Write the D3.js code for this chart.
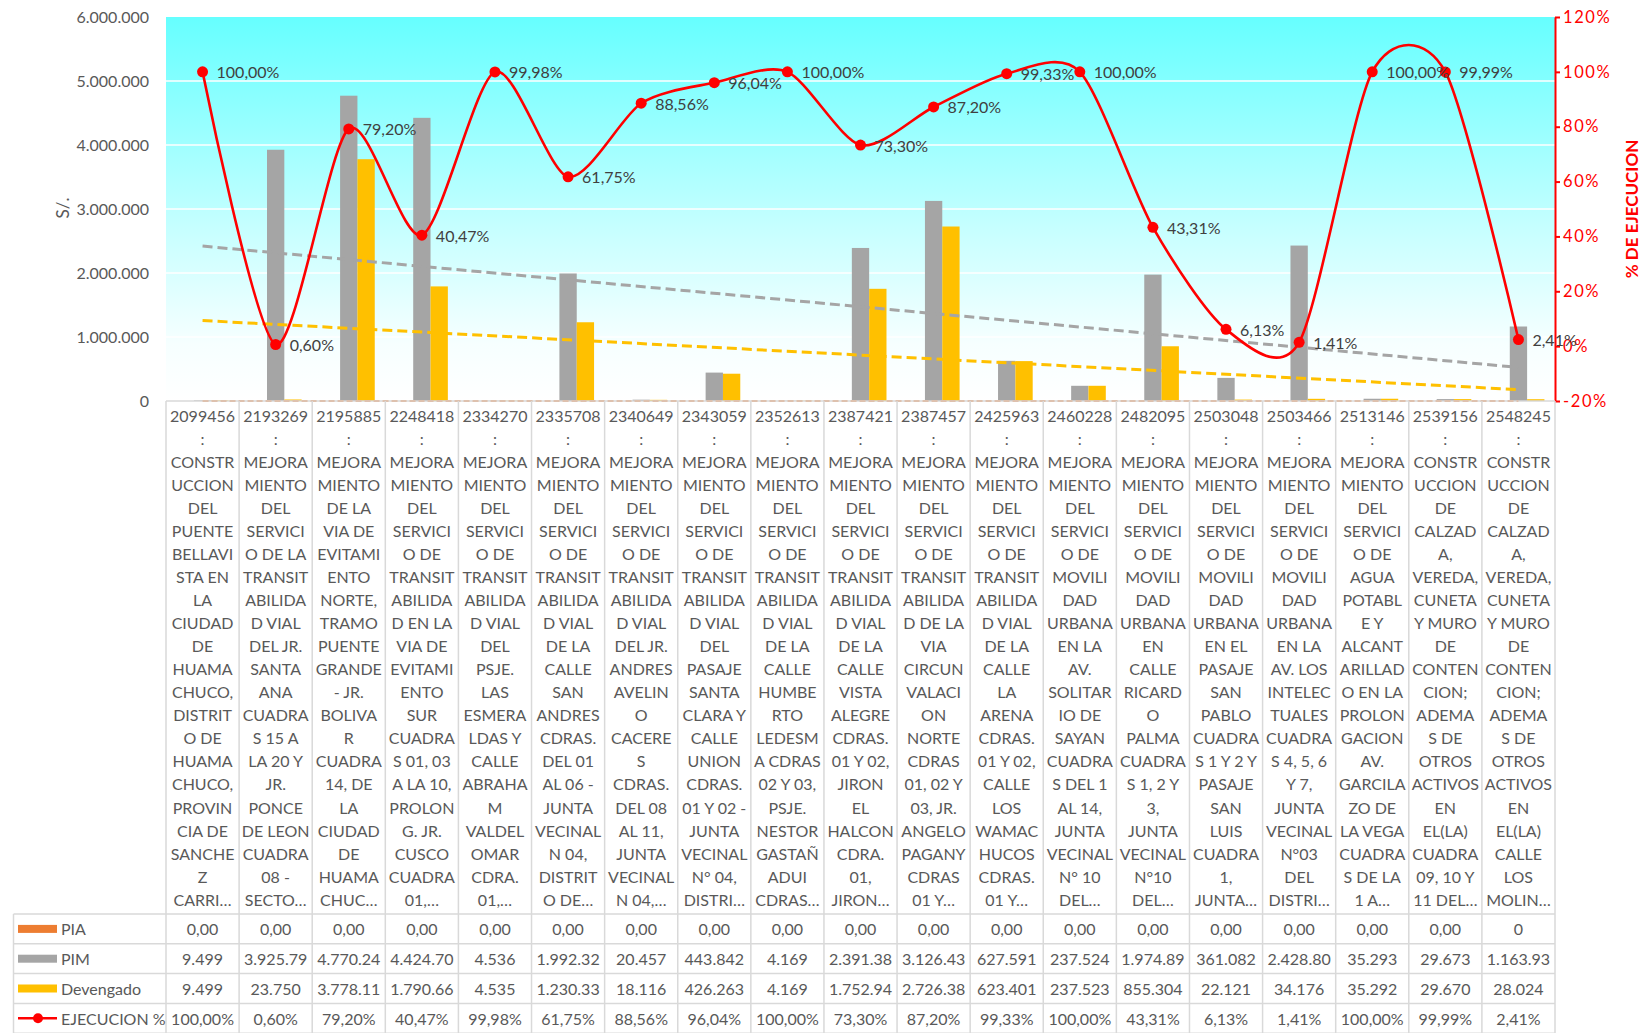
<!DOCTYPE html>
<html><head><meta charset="utf-8">
<script src="https://cdn.jsdelivr.net/npm/d3@7"></script>
<style>
body{margin:0;background:#fff;}
svg{display:block;font-family:Lato, "Open Sans", sans-serif;}
</style>
</head><body>
<svg id="chart" width="1645" height="1033"></svg>
<script>
// ---------- DATA ----------
const categories = ["2099456","2193269","2195885","2248418","2334270","2335708","2340649","2343059","2352613","2387421","2387457","2425963","2460228","2482095","2503048","2503466","2513146","2539156","2548245"];
const descriptions = [
  "CONSTR|UCCION|DEL|PUENTE|BELLAVI|STA EN|LA|CIUDAD|DE|HUAMA|CHUCO,|DISTRIT|O DE|HUAMA|CHUCO,|PROVIN|CIA DE|SANCHE|Z|CARRI…",
  "MEJORA|MIENTO|DEL|SERVICI|O DE LA|TRANSIT|ABILIDA|D VIAL|DEL JR.|SANTA|ANA|CUADRA|S 15 A|LA 20 Y|JR.|PONCE|DE LEON|CUADRA|08 -|SECTO…",
  "MEJORA|MIENTO|DE LA|VIA DE|EVITAMI|ENTO|NORTE,|TRAMO|PUENTE|GRANDE|- JR.|BOLIVA|R|CUADRA|14, DE|LA|CIUDAD|DE|HUAMA|CHUC…",
  "MEJORA|MIENTO|DEL|SERVICI|O DE|TRANSIT|ABILIDA|D EN LA|VIA DE|EVITAMI|ENTO|SUR|CUADRA|S 01, 03|A LA 10,|PROLON|G. JR.|CUSCO|CUADRA|01,…",
  "MEJORA|MIENTO|DEL|SERVICI|O DE|TRANSIT|ABILIDA|D VIAL|DEL|PSJE.|LAS|ESMERA|LDAS Y|CALLE|ABRAHA|M|VALDEL|OMAR|CDRA.|01,…",
  "MEJORA|MIENTO|DEL|SERVICI|O DE|TRANSIT|ABILIDA|D VIAL|DE LA|CALLE|SAN|ANDRES|CDRAS.|DEL 01|AL 06 -|JUNTA|VECINAL|N 04,|DISTRIT|O DE…",
  "MEJORA|MIENTO|DEL|SERVICI|O DE|TRANSIT|ABILIDA|D VIAL|DEL JR.|ANDRES|AVELIN|O|CACERE|S|CDRAS.|DEL 08|AL 11,|JUNTA|VECINAL|N 04,…",
  "MEJORA|MIENTO|DEL|SERVICI|O DE|TRANSIT|ABILIDA|D VIAL|DEL|PASAJE|SANTA|CLARA Y|CALLE|UNION|CDRAS.|01 Y 02 -|JUNTA|VECINAL|N° 04,|DISTRI…",
  "MEJORA|MIENTO|DEL|SERVICI|O DE|TRANSIT|ABILIDA|D VIAL|DE LA|CALLE|HUMBE|RTO|LEDESM|A CDRAS|02 Y 03,|PSJE.|NESTOR|GASTAÑ|ADUI|CDRAS…",
  "MEJORA|MIENTO|DEL|SERVICI|O DE|TRANSIT|ABILIDA|D VIAL|DE LA|CALLE|VISTA|ALEGRE|CDRAS.|01 Y 02,|JIRON|EL|HALCON|CDRA.|01,|JIRON…",
  "MEJORA|MIENTO|DEL|SERVICI|O DE|TRANSIT|ABILIDA|D DE LA|VIA|CIRCUN|VALACI|ON|NORTE|CDRAS|01, 02 Y|03, JR.|ANGELO|PAGANY|CDRAS|01 Y…",
  "MEJORA|MIENTO|DEL|SERVICI|O DE|TRANSIT|ABILIDA|D VIAL|DE LA|CALLE|LA|ARENA|CDRAS.|01 Y 02,|CALLE|LOS|WAMAC|HUCOS|CDRAS.|01 Y…",
  "MEJORA|MIENTO|DEL|SERVICI|O DE|MOVILI|DAD|URBANA|EN LA|AV.|SOLITAR|IO DE|SAYAN|CUADRA|S DEL 1|AL 14,|JUNTA|VECINAL|N° 10|DEL…",
  "MEJORA|MIENTO|DEL|SERVICI|O DE|MOVILI|DAD|URBANA|EN|CALLE|RICARD|O|PALMA|CUADRA|S 1, 2 Y|3,|JUNTA|VECINAL|N°10|DEL…",
  "MEJORA|MIENTO|DEL|SERVICI|O DE|MOVILI|DAD|URBANA|EN EL|PASAJE|SAN|PABLO|CUADRA|S 1 Y 2 Y|PASAJE|SAN|LUIS|CUADRA|1,|JUNTA…",
  "MEJORA|MIENTO|DEL|SERVICI|O DE|MOVILI|DAD|URBANA|EN LA|AV. LOS|INTELEC|TUALES|CUADRA|S 4, 5, 6|Y 7,|JUNTA|VECINAL|N°03|DEL|DISTRI…",
  "MEJORA|MIENTO|DEL|SERVICI|O DE|AGUA|POTABL|E Y|ALCANT|ARILLAD|O EN LA|PROLON|GACION|AV.|GARCILA|ZO DE|LA VEGA|CUADRA|S DE LA|1 A…",
  "CONSTR|UCCION|DE|CALZAD|A,|VEREDA,|CUNETA|Y MURO|DE|CONTEN|CION;|ADEMA|S DE|OTROS|ACTIVOS|EN|EL(LA)|CUADRA|09, 10 Y|11 DEL…",
  "CONSTR|UCCION|DE|CALZAD|A,|VEREDA,|CUNETA|Y MURO|DE|CONTEN|CION;|ADEMA|S DE|OTROS|ACTIVOS|EN|EL(LA)|CALLE|LOS|MOLIN…"
];
const PIA = [0,0,0,0,0,0,0,0,0,0,0,0,0,0,0,0,0,0,0];
const PIAText = ["0,00","0,00","0,00","0,00","0,00","0,00","0,00","0,00","0,00","0,00","0,00","0,00","0,00","0,00","0,00","0,00","0,00","0,00","0"];
const PIM = [9499,3925790,4770240,4424700,4536,1992320,20457,443842,4169,2391380,3126430,627591,237524,1974890,361082,2428800,35293,29673,1163930];
const Devengado = [9499,23750,3778110,1790660,4535,1230330,18116,426263,4169,1752940,2726380,623401,237523,855304,22121,34176,35292,29670,28024];
const Ejecucion = [1.0,0.006,0.792,0.4047,0.9998,0.6175,0.8856,0.9604,1.0,0.733,0.872,0.9933,1.0,0.4331,0.0613,0.0141,1.0,0.9999,0.0241];
const leftTicks = [0,1000000,2000000,3000000,4000000,5000000,6000000];
const rightTicks = [-0.2,0,0.2,0.4,0.6,0.8,1.0,1.2];
const seriesNames = ["PIA","PIM","Devengado","EJECUCION %"];

// ---------- SETUP ----------
const loc = d3.formatLocale({decimal:",", thousands:".", grouping:[3], currency:["",""], minus:"-"});
const fmtInt = loc.format(",");
const fmtPctAxis = loc.format(".0%");
const fmtPct2 = loc.format(".2%");

const colors = {PIA:"#ED7D31", PIM:"#A5A5A5", Devengado:"#FFC000", line:"#FF0000"};
const textCol = "#595959";
const gridBorder = "#D9D9D9";

const L = 166, R = 1555, T = 17, B = 401;
const tableTop = 914, rowH = 29.8, legendLeft = 13.5;

const svg = d3.select("#chart");

const x = d3.scaleBand().domain(categories).range([L, R]).padding(0);
const xs = d3.scaleBand().domain(["PIA","PIM","Devengado"]).range([0, x.bandwidth()]).paddingInner(0).paddingOuter(0.61);
const yL = d3.scaleLinear().domain([0, 6000000]).range([B, T]);
const yR = d3.scaleLinear().domain([-0.2, 1.2]).range([B, T]);

// background gradient
const defs = svg.append("defs");
const grad = defs.append("linearGradient").attr("id","bg").attr("x1",0).attr("y1",0).attr("x2",0).attr("y2",1);
grad.append("stop").attr("offset","0%").attr("stop-color","#66FFFF");
grad.append("stop").attr("offset","55%").attr("stop-color","#C6FFFF");
grad.append("stop").attr("offset","85%").attr("stop-color","#F6FFFF");
grad.append("stop").attr("offset","100%").attr("stop-color","#FFFFFF");
svg.append("rect").attr("x",L).attr("y",T).attr("width",R-L).attr("height",B-T).attr("fill","url(#bg)");

// gridlines
svg.append("g").selectAll("line").data(leftTicks.filter(d=>d>0 && d<6000000)).join("line")
  .attr("x1",L).attr("x2",R).attr("y1",d=>yL(d)).attr("y2",d=>yL(d))
  .attr("stroke","#FFFFFF").attr("stroke-width",1.5);

// left axis
const gL = svg.append("g").attr("transform",`translate(${L},0)`)
  .call(d3.axisLeft(yL).tickValues(leftTicks).tickFormat(fmtInt).tickSize(0).tickPadding(17));
gL.select(".domain").remove();
gL.selectAll("text").attr("fill",textCol).style("font-size","16px").style("font-family","Lato");

svg.append("text").attr("transform","translate(62,208) rotate(-90)").attr("text-anchor","middle")
  .attr("dominant-baseline","central").attr("fill",textCol).style("font-size","17px").text("S/.");

// right axis
const gR = svg.append("g").attr("transform",`translate(${R},0)`)
  .call(d3.axisRight(yR).tickValues(rightTicks).tickFormat(fmtPctAxis).tickSize(5).tickSizeOuter(0).tickPadding(3));
gR.select(".domain").attr("stroke",colors.line).attr("stroke-width",2);
gR.selectAll(".tick line").attr("stroke",colors.line).attr("stroke-width",2);
gR.selectAll("text").attr("fill",colors.line).style("font-size","16.5px").style("font-family","Lato").style("letter-spacing","1.6px");

svg.append("text").attr("transform","translate(1631,209) rotate(-90)").attr("text-anchor","middle")
  .attr("dominant-baseline","central").attr("fill",colors.line).style("font-size","17px").style("font-weight","bold")
  .text("% DE EJECUCION");

// bars
const barSeries = [["PIA",PIA],["PIM",PIM],["Devengado",Devengado]];
barSeries.forEach(([name, vals]) => {
  svg.append("g").selectAll("rect").data(vals).join("rect")
    .attr("x",(d,i)=>x(categories[i]) + xs(name))
    .attr("width",xs.bandwidth())
    .attr("y",d=>yL(d))
    .attr("height",d=>B - yL(d))
    .attr("fill",colors[name]);
});

// linear trendlines (least squares over category index, as in the source chart)
function trend(vals){
  const n = vals.length, xsum = d3.sum(vals,(d,i)=>i+1), ysum = d3.sum(vals);
  const mx = xsum/n, my = ysum/n;
  let sxy=0, sxx=0;
  vals.forEach((v,i)=>{ sxy += (i+1-mx)*(v-my); sxx += (i+1-mx)*(i+1-mx); });
  const m = sxx ? sxy/sxx : 0, b = my - m*mx;
  return [[1, m*1+b],[n, m*n+b]];
}
const trendStyles = [["PIA",PIA,"#ED7D31",2,"6,3"],["PIM",PIM,"#A5A5A5",3,"10,5"],["Devengado",Devengado,"#FFC000",3,"10,5"]];
trendStyles.forEach(([name, vals, col, w, dash]) => {
  const pts = trend(vals);
  svg.append("line")
    .attr("x1", x(categories[pts[0][0]-1]) + x.bandwidth()/2)
    .attr("x2", x(categories[pts[1][0]-1]) + x.bandwidth()/2)
    .attr("y1", yL(pts[0][1])).attr("y2", yL(pts[1][1]))
    .attr("stroke",col).attr("stroke-width",w).attr("stroke-dasharray",dash);
});

// ejecucion line
const line = d3.line().x((d,i)=>x(categories[i]) + x.bandwidth()/2).y(d=>yR(d)).curve(d3.curveCardinal.tension(0.2));
svg.append("path").datum(Ejecucion).attr("d",line).attr("fill","none").attr("stroke",colors.line).attr("stroke-width",2.6);
svg.append("g").selectAll("circle").data(Ejecucion).join("circle")
  .attr("cx",(d,i)=>x(categories[i]) + x.bandwidth()/2).attr("cy",d=>yR(d)).attr("r",5.5).attr("fill",colors.line);
svg.append("g").selectAll("text").data(Ejecucion).join("text")
  .attr("x",(d,i)=>x(categories[i]) + x.bandwidth()/2 + 14).attr("y",d=>yR(d))
  .attr("dominant-baseline","central").attr("fill","#404040").style("font-size","16px")
  .text(d=>fmtPct2(d));

// category label table
const gCat = svg.append("g");
gCat.append("line").attr("x1",L).attr("x2",R).attr("y1",B).attr("y2",B).attr("stroke",gridBorder).attr("stroke-width",1.5);
categories.forEach((c,i)=>{
  const lines = [c, ":"].concat(descriptions[i].split("|"));
  const cx = x(c) + x.bandwidth()/2;
  gCat.append("g").selectAll("text").data(lines).join("text")
    .attr("x",cx).attr("y",(d,j)=>415.5 + j*23.03)
    .attr("text-anchor","middle").attr("dominant-baseline","central")
    .attr("fill",textCol).style("font-size","16px").text(d=>d);
});
// vertical borders
svg.append("g").selectAll("line").data(d3.range(categories.length+1)).join("line")
  .attr("x1",i=>L + i*x.step()).attr("x2",i=>L + i*x.step())
  .attr("y1",B).attr("y2",1033).attr("stroke",gridBorder).attr("stroke-width",1.5);

// data table
const rows = [
  {name:"PIA", texts:PIAText},
  {name:"PIM", texts:PIM.map(fmtInt)},
  {name:"Devengado", texts:Devengado.map(fmtInt)},
  {name:"EJECUCION %", texts:Ejecucion.map(fmtPct2)}
];
const gT = svg.append("g");
d3.range(rows.length+1).forEach(r=>{
  gT.append("line").attr("x1",legendLeft).attr("x2",R).attr("y1",tableTop + r*rowH).attr("y2",tableTop + r*rowH)
    .attr("stroke",gridBorder).attr("stroke-width",1.5);
});
gT.append("line").attr("x1",legendLeft).attr("x2",legendLeft).attr("y1",tableTop).attr("y2",1033)
  .attr("stroke",gridBorder).attr("stroke-width",1.5);

rows.forEach((row,r)=>{
  const cy = tableTop + r*rowH + rowH/2;
  // legend key
  if (row.name === "EJECUCION %") {
    gT.append("line").attr("x1",18).attr("x2",57).attr("y1",cy).attr("y2",cy).attr("stroke",colors.line).attr("stroke-width",2.6);
    gT.append("circle").attr("cx",38).attr("cy",cy).attr("r",5).attr("fill",colors.line);
  } else {
    gT.append("rect").attr("x",18).attr("y",cy-4).attr("width",39).attr("height",8).attr("fill",colors[row.name]);
  }
  gT.append("text").attr("x",61).attr("y",cy).attr("dominant-baseline","central")
    .attr("fill",textCol).style("font-size","16px").text(row.name);
  row.texts.forEach((t,i)=>{
    const tx = gT.append("text").attr("x",x(categories[i]) + x.bandwidth()/2).attr("y",cy)
      .attr("text-anchor","middle").attr("dominant-baseline","central")
      .attr("fill",textCol).style("font-size","16px").text(t);
    // cells clip overflowing text, as in the source table
    let s = t;
    while (tx.node().getComputedTextLength() > x.bandwidth() - 4 && s.length > 1) {
      s = s.slice(0,-1); tx.text(s);
    }
  });
});
</script>
</body></html>
